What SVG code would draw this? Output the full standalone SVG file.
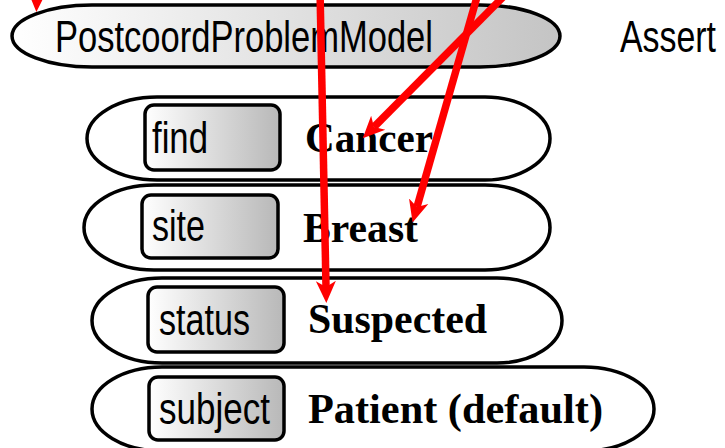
<svg xmlns="http://www.w3.org/2000/svg" width="725" height="448" viewBox="0 0 725 448">
<defs>
<linearGradient id="gTop" x1="0" y1="0" x2="1" y2="0"><stop offset="0" stop-color="#ffffff"/><stop offset="1" stop-color="#c4c4c4"/></linearGradient>
<linearGradient id="gBox" x1="0" y1="0" x2="1" y2="0"><stop offset="0" stop-color="#ffffff"/><stop offset="1" stop-color="#b8b8b8"/></linearGradient>
<marker id="ah" markerUnits="userSpaceOnUse" markerWidth="24" markerHeight="22" viewBox="0 -11 24 22" refX="6" refY="0" orient="auto">
<path d="M22,0 L0,-10 L6,0 L0,10 Z" fill="#ff0000"/>
</marker>
<style>
.outer{fill:#ffffff;stroke:#000;stroke-width:3.5}
.box{fill:url(#gBox);stroke:#000;stroke-width:3.5}
.sans{font-family:"Liberation Sans",Arial,sans-serif;font-size:45px;fill:#000}
.serif{font-family:"Liberation Serif","Times New Roman",serif;font-size:42px;font-weight:bold;fill:#000}
.conn{fill:none;stroke:#ff0000;stroke-width:7.5;marker-end:url(#ah)}
</style>
</defs>
<rect width="725" height="448" fill="#ffffff"/>
<g id="postcoord">
<path d="M92,5 L480,5 A80,31 0 0 1 480,67 L92,67 A80,31 0 0 1 92,5 Z" fill="url(#gTop)" stroke="#000" stroke-width="3.5"/>
<text class="sans" x="55" y="52" textLength="378" lengthAdjust="spacingAndGlyphs">PostcoordProblemModel</text>
</g>
<g id="assert">
<text class="sans" x="620" y="52" textLength="96" lengthAdjust="spacingAndGlyphs">Assert</text>
</g>
<g id="find">
<path class="outer" d="M157,97 L485,97 A65,41.5 0 0 1 485,180 L157,180 A70,41.5 0 0 1 157,97 Z"/>
<rect class="box" x="145" y="105" width="135" height="65" rx="9"/>
<text class="sans" x="152" y="153" textLength="56" lengthAdjust="spacingAndGlyphs">find</text>
<text class="serif" x="305" y="152" textLength="128" lengthAdjust="spacingAndGlyphs">Cancer</text>
</g>
<g id="site">
<path class="outer" d="M154,185 L485,185 A65,42.5 0 0 1 485,270 L154,270 A70,42.5 0 0 1 154,185 Z"/>
<rect class="box" x="142" y="195" width="136" height="63" rx="9"/>
<text class="sans" x="152" y="241" textLength="53" lengthAdjust="spacingAndGlyphs">site</text>
<text class="serif" x="303" y="242" textLength="115" lengthAdjust="spacingAndGlyphs">Breast</text>
</g>
<g id="status">
<path class="outer" d="M162,278 L497,278 A65,42.5 0 0 1 497,363 L162,363 A70,42.5 0 0 1 162,278 Z"/>
<rect class="box" x="148" y="287" width="136" height="65" rx="9"/>
<text class="sans" x="159" y="335" textLength="91" lengthAdjust="spacingAndGlyphs">status</text>
<text class="serif" x="308" y="333" textLength="179" lengthAdjust="spacingAndGlyphs">Suspected</text>
</g>
<g id="subject">
<path class="outer" d="M162,367 L584,367 A70,42 0 0 1 584,451 L162,451 A70,42 0 0 1 162,367 Z"/>
<rect class="box" x="149" y="377" width="135" height="63" rx="9"/>
<text class="sans" x="159" y="424" textLength="111" lengthAdjust="spacingAndGlyphs">subject</text>
<text class="serif" x="308" y="423" textLength="295" lengthAdjust="spacingAndGlyphs">Patient (default)</text>
</g>
<g id="connectors">
<path class="conn" d="M38,-30 L37,-4"/>
<path class="conn" d="M320,-10 L326,287"/>
<path class="conn" d="M510,-10 L374,127"/>
<path class="conn" d="M479,-10 L417,207"/>
</g>
</svg>
